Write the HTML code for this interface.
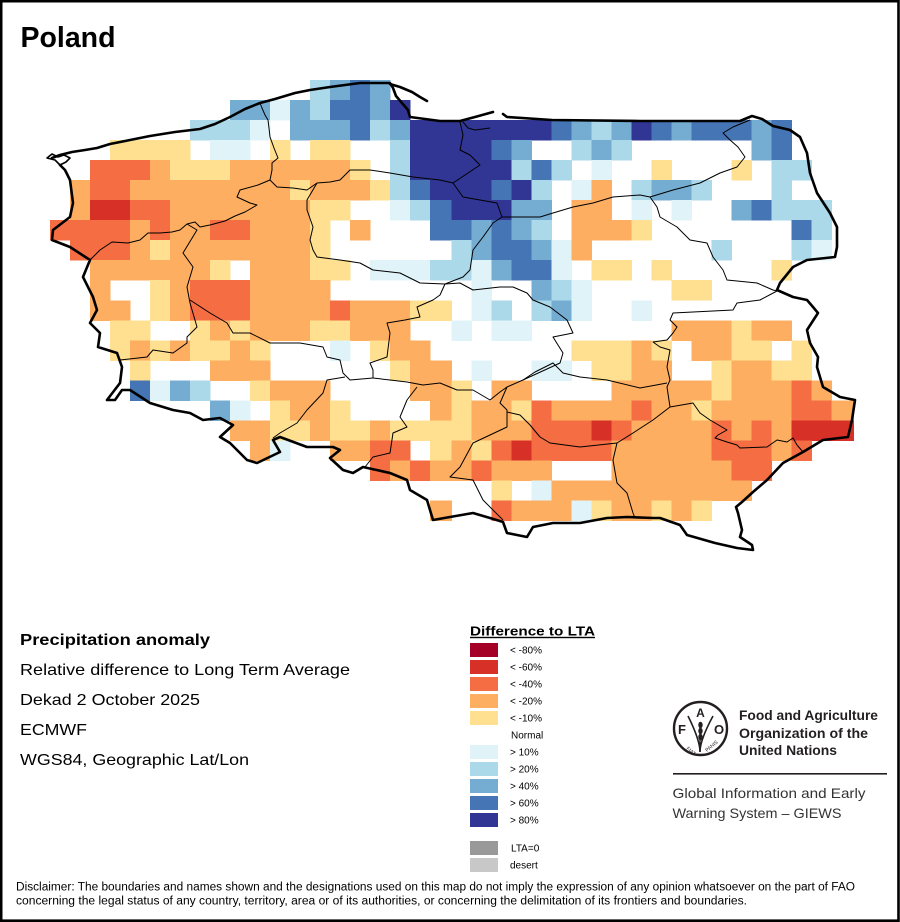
<!DOCTYPE html>
<html><head><meta charset="utf-8"><style>
html,body{margin:0;padding:0;background:#fff;}
svg{display:block;}
</style></head><body>
<svg id="s" width="900" height="922" viewBox="0 0 900 922" xmlns="http://www.w3.org/2000/svg" font-family="'Liberation Sans', Arial, sans-serif">
<rect width="900" height="922" fill="#fff"/>
<g id="grid" shape-rendering="crispEdges"></g>
<g fill="none" stroke="#000" stroke-width="1" stroke-linejoin="round">
<polyline points="260,103 262,108 265,115 268,120 269,128 270,137 274,148 278,158 272,163 272,170 270,180"/>
<polyline points="270,180 258,185 240,190 237,197 250,203 257,205 245,212 235,216 225,221 210,225 200,227 195,222 187,224 180,230 172,232 160,233 148,233 140,240 128,243 112,242 100,250 90,260"/>
<polyline points="270,180 277,187 293,188 307,190 317,183 330,182 340,180 350,170 370,170 390,173 413,177 440,180 453,183"/>
<polyline points="460,122 463,135 460,150 470,155 480,165 465,175 453,183"/>
<polyline points="453,183 463,197 480,200 497,203 502,217 513,217 540,217 553,213 573,207 593,203 613,197 640,195 650,197"/>
<polyline points="650,197 673,190 700,183 720,173 737,167 745,157 738,147 730,140 723,133 733,127 750,120"/>
<polyline points="650,197 657,207 660,217 677,227 690,240 707,243 713,257 723,270 727,280 757,283 773,290 777,291"/>
<polyline points="777,291 760,300 737,303 733,310 673,313 670,320 677,327 673,333 667,340 653,342 660,347 670,350 667,367 670,380 667,387 670,407"/>
<polyline points="670,407 693,403 700,413 710,420 727,430 718,435 715,438 727,442 737,445 740,448 767,447 777,440 787,442 793,438 797,445 803,452"/>
<polyline points="670,407 653,420 633,433 617,443 613,460 617,483 627,493 633,513 635,518"/>
<polyline points="440,383 457,390 473,390 490,400 500,392 507,387 523,380 535,372 553,363 563,373 580,377 607,380 640,388 667,383"/>
<polyline points="523,380 560,363 563,353 553,337 573,333 567,320 550,307 533,300 527,293 513,287 500,287 473,290 460,283 445,284"/>
<polyline points="317,183 307,200 307,210 313,227 310,240 313,250 317,257 340,260 360,263 373,270 400,273 420,283 445,284"/>
<polyline points="502,217 493,223 483,237 473,250 470,270 463,277 445,284"/>
<polyline points="445,284 440,295 433,300 417,307 420,317 405,320 387,323 390,333 387,357 370,363 373,370 373,378"/>
<polyline points="373,378 390,380 407,382 423,385 440,383"/>
<polyline points="190,300 210,313 227,323 233,333 250,333 270,343 300,343 323,347 327,357 340,360 343,373 350,380 373,378"/>
<polyline points="187,224 197,230 183,253 193,267 187,287 190,303"/>
<polyline points="190,303 197,327 187,337 187,343 173,353 153,350 147,357 120,360"/>
<polyline points="345,377 327,380 323,393 307,410 297,423 280,433 273,438"/>
<polyline points="417,387 407,400 400,417 407,427 393,433 390,453 373,457 365,467"/>
<polyline points="507,387 500,403 507,410 507,427 473,443 460,467 450,477 473,480 483,500 503,520"/>
<polyline points="507,412 520,415 530,425 540,437 550,443 580,447 617,443"/>
<polyline points="463,122 468,128 475,130 490,128"/>
</g>
<g fill="none" stroke="#000" stroke-width="2.6" stroke-linejoin="round" stroke-linecap="round">
<polyline points="52,158 60,155 72,152 85,150 97,148 110,144 130,140 150,136 175,132 200,129 215,124 230,117 245,109 260,103 275,99 295,93 310,90 330,87 360,83 390,83 393,88 396,96 402,103 408,110 410,117 425,119 440,121 460,121 475,117 493,112"/>
<polyline points="390,84 400,87 412,92 420,97 427,101"/>
<polyline points="503,114 507,117 552,120 640,121 740,121 752,116 762,119 773,126 790,130 800,137 807,153 810,173 817,193 830,213 837,227 837,247 835,257 807,260 793,267 780,283 777,290 793,297 807,300 813,307 818,313 807,330 810,343 818,357 817,367 823,387 840,397 855,400 852,420 848,437 823,440 803,452 783,463 767,480 753,492 742,502 736,507 738,513 742,530 740,537 752,545 753,550 737,548 715,543 687,535 680,525 660,518 653,518 627,517 607,518 580,523 553,523 533,527 527,537 507,533 503,522 490,518 473,513 450,517 433,520 427,500 410,490 407,480 390,473 363,467 353,473 343,470 330,458 340,450 333,447 307,447 280,437 273,440 280,452 257,463 247,460 230,443 220,437 233,425 220,418 203,420 190,413 173,410 150,403 130,390 122,390 115,400 107,400 120,383 122,367 117,353 98,347 100,333 90,323 97,310 93,297 83,277 90,260 70,247 52,240 53,230 70,217 73,203 70,180 65,170 60,165"/>
<polyline points="60,165 55,160 47,158 52,154 58,157 64,155 70,158 66,162 60,165" stroke-width="1.6"/>
</g>

<rect x="1.2" y="1.2" width="897.3" height="919.5" fill="none" stroke="#000" stroke-width="2.6"/>

<text x="20.5" y="47" font-size="28.5" font-weight="bold" fill="#000">Poland</text>

<g fill="#000" font-size="16">
<text x="20" y="645" font-weight="bold" textLength="190" lengthAdjust="spacingAndGlyphs">Precipitation anomaly</text>
<text x="20" y="675" textLength="330" lengthAdjust="spacingAndGlyphs">Relative difference to Long Term Average</text>
<text x="20" y="705" textLength="180" lengthAdjust="spacingAndGlyphs">Dekad 2 October 2025</text>
<text x="20" y="735" textLength="67" lengthAdjust="spacingAndGlyphs">ECMWF</text>
<text x="20" y="765" textLength="229" lengthAdjust="spacingAndGlyphs">WGS84, Geographic Lat/Lon</text>
</g>

<text x="470" y="635.5" font-size="13" font-weight="bold" textLength="125" lengthAdjust="spacingAndGlyphs">Difference to LTA</text>
<rect x="470" y="636.8" width="125" height="1.4" fill="#000"/>
<g shape-rendering="crispEdges">
<rect x="470" y="643" width="28" height="14" fill="#a50026"/>
<rect x="470" y="660" width="28" height="14" fill="#d73027"/>
<rect x="470" y="677" width="28" height="14" fill="#f46d43"/>
<rect x="470" y="694" width="28" height="14" fill="#fdae61"/>
<rect x="470" y="711" width="28" height="14" fill="#fee090"/>
<rect x="470" y="745" width="28" height="14" fill="#e0f3f8"/>
<rect x="470" y="762" width="28" height="14" fill="#abd9e9"/>
<rect x="470" y="779" width="28" height="14" fill="#74add1"/>
<rect x="470" y="796" width="28" height="14" fill="#4575b4"/>
<rect x="470" y="813" width="28" height="14" fill="#313695"/>
<rect x="470" y="841" width="28" height="14" fill="#999999"/>
<rect x="470" y="858" width="28" height="14" fill="#c8c8c8"/>
</g>
<g font-size="10" fill="#000">
<text x="510" y="653.7">&lt; -80%</text>
<text x="510" y="670.7">&lt; -60%</text>
<text x="510" y="687.7">&lt; -40%</text>
<text x="510" y="704.7">&lt; -20%</text>
<text x="510" y="721.7">&lt; -10%</text>
<text x="511" y="738.7">Normal</text>
<text x="510" y="755.7">&gt; 10%</text>
<text x="510" y="772.7">&gt; 20%</text>
<text x="510" y="789.7">&gt; 40%</text>
<text x="510" y="806.7">&gt; 60%</text>
<text x="510" y="823.7">&gt; 80%</text>
<text x="511" y="851.7">LTA=0</text>
<text x="510" y="868.7">desert</text>
</g>

<!-- FAO logo -->
<g fill="none" stroke="#231f20">
<circle cx="700.5" cy="728.5" r="26.5" stroke-width="2.4"/>
<path d="M688,716 Q700,740 700,752 Q700,740 713,716" stroke-width="1.6"/>
<path d="M700,722 L700,752" stroke-width="1.4"/>
</g>
<g fill="#231f20">
<ellipse cx="700.5" cy="725" rx="2.2" ry="3.2"/>
<ellipse cx="700.5" cy="731" rx="2.2" ry="3.2"/>
<ellipse cx="700.5" cy="737" rx="2.2" ry="3.2"/>
<text x="682" y="734" font-size="13" font-weight="bold" text-anchor="middle">F</text>
<text x="700.5" y="717" font-size="12" font-weight="bold" text-anchor="middle">A</text>
<text x="719" y="734" font-size="13" font-weight="bold" text-anchor="middle">O</text>
<text x="686" y="749" font-size="5" transform="rotate(40 686 749)">FIAT</text>
<text x="707" y="752" font-size="5" transform="rotate(-40 707 752)">PANIS</text>
</g>
<g fill="#231f20" font-size="14" font-weight="bold">
<text x="739" y="720" textLength="139" lengthAdjust="spacingAndGlyphs">Food and Agriculture</text>
<text x="739" y="738" textLength="129" lengthAdjust="spacingAndGlyphs">Organization of the</text>
<text x="739" y="755" textLength="98" lengthAdjust="spacingAndGlyphs">United Nations</text>
</g>
<rect x="673" y="773" width="214" height="1.6" fill="#231f20"/>
<g fill="#333" font-size="14">
<text x="672.5" y="798" textLength="193" lengthAdjust="spacingAndGlyphs">Global Information and Early</text>
<text x="672.5" y="818" textLength="169" lengthAdjust="spacingAndGlyphs">Warning System – GIEWS</text>
</g>

<g fill="#000" font-size="11.5">
<text x="16" y="890.5" textLength="839" lengthAdjust="spacingAndGlyphs">Disclaimer: The boundaries and names shown and the designations used on this map do not imply the expression of any opinion whatsoever on the part of FAO</text>
<text x="16" y="904.5" textLength="731" lengthAdjust="spacingAndGlyphs">concerning the legal status of any country, territory, area or of its authorities, or concerning the delimitation of its frontiers and boundaries.</text>
</g>
</svg>
<script>
(function(){
var rows=[
"............."+"2343"+".......................",
"........."+"331324435"+"......................",
"......."+"2221.333423"+"5555555"+"4323543444"+"34"+"...",
"..."+"yyyy"+".11.y.yy..2"+"5555"+"43"+".."+"232"+"......"+"34"+"...",
".."+"OOOoyyy"+"oooooo"+"y.2"+"55555"+"242"+".1..y...y.22..",
".oOO"+"oooooooo"+"yooo"+"y24"+"555"+"452"+".1o.2332"+"..."+"2...",
".oRROO"+"ooooooo"+"yy..124"+"555"+"33.oo.1.1.."+"34222"+".",
"OOOOoOooOOooo"+"y.o..."+"443432"+".oooy"+"......."+"42.",
".OOOoy"+"ooooooo"+"y......"+"234431o"+"......"+"2...21.",
".."+"oooooo"+"y.oooyy."+"1112"+"213441"+".yy.y"+"....."+"y...",
"..o..yoOOOoooo"+"......."+"1..321"+"...."+"yy"+".......",
"..oo.yoOOOooooOoooyy"+".12.231..1"+"..........",
"...yy..yoyoooyyooo.."+"1.11"+"......."+"oooyoo"+"...",
"...yoyoyyoy...1.yoo."+"......yyyoy.ooyy.y..",
"....y...ooo......yoo"+".1..11.yyoo..yooyy..",
"....4132..yooo....oo"+"y.oo....oooooyoooOo.",
"........31.yooy....o"+"yooyOooooOooyooooOOo",
".........ooyyoyyoyyy"+"yoooOOOROooooOoOoRRR",
"..........o1..ooOO.y"+"oyOROOOOoooooOOOoO..",
"................OoOo"+"oOooo...ooooooOO....",
"......................y.1oooooooooo.....",
"..................."+"o..Oooo1yooyoy"+"......."
];
var col={R:"#d73027",O:"#f46d43",o:"#fdae61",y:"#fee090","1":"#e0f3f8","2":"#abd9e9","3":"#74add1","4":"#4575b4","5":"#313695"};
var g=document.getElementById("grid"),ns="http://www.w3.org/2000/svg";
function cx(c){return c<=19?50+20*c:451.7+20*(c-20);}
function cw(c){return (c==19||c==39)?21.7:20;}
for(var r=0;r<rows.length;r++){
  var s=rows[r];
  for(var c=0;c<s.length&&c<40;c++){
    var k=s.charAt(c); if(!col[k])continue;
    var e=document.createElementNS(ns,"rect");
    e.setAttribute("x",cx(c)); e.setAttribute("y",80+20*r+(r>=11?0.5:0));
    e.setAttribute("width",cw(c)+0.4); e.setAttribute("height",20.4);
    e.setAttribute("fill",col[k]); g.appendChild(e);
  }
}
})();
</script>
</body></html>
